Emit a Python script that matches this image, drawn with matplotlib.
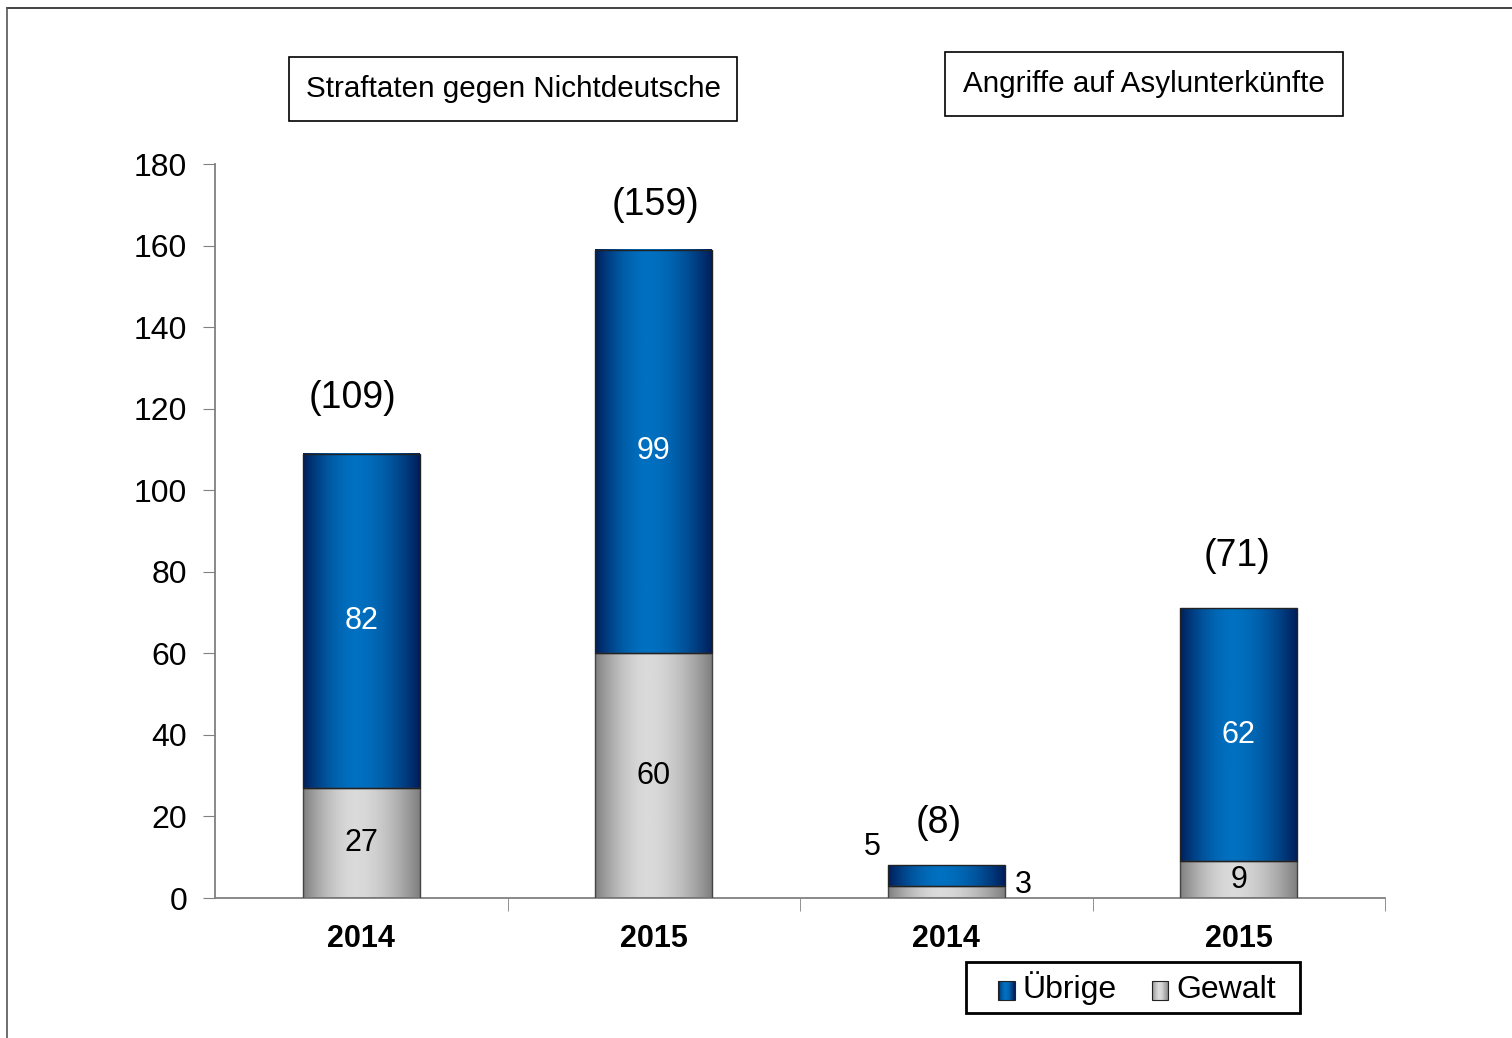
import numpy as np
import matplotlib
matplotlib.use("Agg")
import matplotlib.pyplot as plt
from matplotlib.patches import Rectangle
from matplotlib.lines import Line2D
from matplotlib.colors import LinearSegmentedColormap

plt.rcParams['font.family'] = ['Liberation Sans', 'DejaVu Sans']

years = ['2014', '2015', '2014', '2015']
gewalt = [27, 60, 3, 9]
uebrige = [82, 99, 5, 62]
totals = [109, 159, 8, 71]
group_titles = ['Straftaten gegen Nichtdeutsche', 'Angriffe auf Asylunterkünfte']

blue_cm = LinearSegmentedColormap.from_list('b', ['#001E5A', '#0070C0'])
grey_cm = LinearSegmentedColormap.from_list('g', ['#7F7F7F', '#DADADA'])

def profile(n=200):
    x = np.linspace(0, 1, n)
    t = np.where(x < 0.45, (0.45 - x) / 0.45, (x - 0.45) / 0.55)
    return 1 - t ** 1.8

grad = profile()[None, :]

fig = plt.figure(figsize=(15.12, 10.38), dpi=100)
ax = fig.add_axes([215/1512, 1-898/1038, 1170/1512, 734/1038])

x = np.arange(len(years))
w = 0.4
b1 = ax.bar(x, gewalt, w, color='none', edgecolor='#444444', linewidth=1, zorder=3)
b2 = ax.bar(x, uebrige, w, bottom=gewalt, color='none', edgecolor='#222222', linewidth=1, zorder=3)

for bars, cm in ((b1, grey_cm), (b2, blue_cm)):
    for r in bars:
        x0, y0 = r.get_x(), r.get_y()
        ax.imshow(grad, cmap=cm, extent=[x0, x0 + r.get_width(), y0, y0 + r.get_height()],
                  aspect='auto', zorder=2, interpolation='bilinear')

ax.set_xlim(-0.5, 3.5)
ax.set_ylim(0, 180)
ax.set_yticks(range(0, 181, 20))
ax.tick_params(axis='y', labelsize=23, length=9, color='#808080', pad=11)
ax.set_xticks(x)
ax.set_xticklabels(years, fontsize=22, fontweight='bold')
ax.tick_params(axis='x', length=0, pad=19)
ax.set_xticks([0.5, 1.5, 2.5, 3.5], minor=True)
ax.tick_params(axis='x', which='minor', length=9, color='#808080')
for s in ('top', 'right'):
    ax.spines[s].set_visible(False)
for s in ('left', 'bottom'):
    ax.spines[s].set_color('#808080')
    ax.spines[s].set_linewidth(1.3)

# labels inside bars
for i in range(len(years)):
    if i == 2:
        continue
    ax.text(x[i], gewalt[i] / 2, str(gewalt[i]), ha='center', va='center', fontsize=22, color='black', zorder=4)
    ax.text(x[i], gewalt[i] + uebrige[i] / 2, str(uebrige[i]), ha='center', va='center', fontsize=22, color='white', zorder=4)
ax.text(x[2] - 0.253, 12.5, str(uebrige[2]), ha='center', va='center', fontsize=22)
ax.text(x[2] + 0.263, 3.2, str(gewalt[2]), ha='center', va='center', fontsize=22)

offs = [(-9, 56), (2, 45), (-8, 42), (-2, 52)]
for i, t in enumerate(totals):
    ax.annotate('(%d)' % t, (x[i], t), xytext=offs[i], textcoords='offset pixels',
                ha='center', va='center', fontsize=27)

# title boxes
for (l, t, r, b), txt in zip([(289, 57, 737, 121), (945, 52, 1343, 116)], group_titles):
    fig.patches.append(Rectangle((l/1512, 1-b/1038), (r-l)/1512, (b-t)/1038, transform=fig.transFigure,
                                 fill=False, edgecolor='black', linewidth=1.2))
    fig.text((l+r)/2/1512, 1-(t+b)/2/1038, txt, ha='center', va='center', fontsize=21.3)

# legend with gradient squares
class GradHandler:
    def __init__(self, cm):
        self.cm = cm
    def legend_artist(self, legend, orig_handle, fontsize, handlebox):
        x0, y0 = handlebox.xdescent, handlebox.ydescent
        wd, ht = handlebox.width, handlebox.height
        n = 20
        p = profile(n)
        for k in range(n):
            handlebox.add_artist(Rectangle((x0 + wd*k/n, y0), wd/n + 0.3, ht, facecolor=self.cm(p[k]),
                                           edgecolor='none', transform=handlebox.get_transform()))
        frame = Rectangle((x0, y0), wd, ht, facecolor='none', edgecolor='#222222', lw=0.8,
                          transform=handlebox.get_transform())
        handlebox.add_artist(frame)
        return frame

h1, h2 = Rectangle((0, 0), 1, 1), Rectangle((0, 0), 1, 1)
leg = fig.legend([h1, h2], ['Übrige', 'Gewalt'], loc='center', bbox_to_anchor=(1137/1512, 1-988/1038),
                 ncol=2, fontsize=23, frameon=False,
                 handlelength=0.52, handleheight=0.52, handletextpad=0.25, columnspacing=1.1,
                 borderpad=0, borderaxespad=0, handler_map={h1: GradHandler(blue_cm), h2: GradHandler(grey_cm)})
fig.patches.append(Rectangle((966/1512, 1-1013/1038), 334/1512, 51/1038, transform=fig.transFigure,
                             fill=False, edgecolor='black', linewidth=2))

# outer frame lines
fig.add_artist(Line2D([7/1512, 1], [1-8/1038, 1-8/1038], transform=fig.transFigure, color='#222222', lw=1.2))
fig.add_artist(Line2D([7/1512, 7/1512], [0, 1-8/1038], transform=fig.transFigure, color='#555555', lw=1.2))

fig.savefig('out.png', dpi=100)
